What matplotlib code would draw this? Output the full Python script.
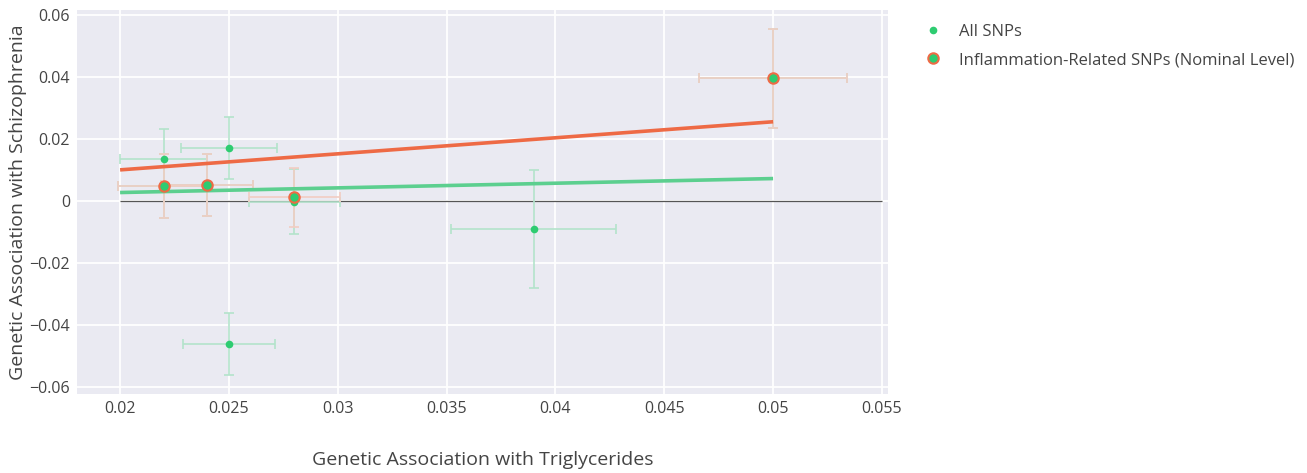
import matplotlib.pyplot as plt
import numpy as np

plt.rcParams['font.family'] = ['Open Sans', 'DejaVu Sans']

# All SNPs: beta for triglycerides (x) and schizophrenia (y), with standard errors
all_x = [0.022, 0.025, 0.028, 0.039, 0.025, 0.024, 0.022, 0.050]
all_y = [0.0134, 0.0170, -0.0002, -0.0090, -0.0461, 0.0050, 0.0047, 0.0395]
all_xerr = [0.0020, 0.0022, 0.0021, 0.0038, 0.0021, 0.0021, 0.0021, 0.0034]
all_yerr = [0.0097, 0.0099, 0.0106, 0.0190, 0.0101, 0.0100, 0.0103, 0.0160]

# Inflammation-related SNPs (nominal level)
infl_x = [0.022, 0.024, 0.028, 0.050]
infl_y = [0.0047, 0.0050, 0.0011, 0.0395]
infl_xerr = [0.0021, 0.0021, 0.0021, 0.0034]
infl_yerr = [0.0103, 0.0100, 0.0095, 0.0160]

# fitted lines (endpoints)
fit_x = [0.02, 0.05]
all_fit_y = [0.0027, 0.0072]
infl_fit_y = [0.0100, 0.0255]

green = '#2ecc71'
orange = '#ee6a45'
green_err = '#b3e3cb'
orange_err = '#f2cdc3'
bg = '#eaeaf2'
txt = '#444444'

fig = plt.figure(figsize=(13.07, 4.73), dpi=100)
W, H = 1307, 473
ax = fig.add_axes([77 / W, 1 - 394 / H, (888 - 77) / W, (394 - 10) / H])
ax.set_facecolor(bg)
for s in ax.spines.values():
    s.set_visible(False)

ax.set_xlim(0.01802, 0.05528)
ax.set_ylim(-0.0622, 0.0615)
ax.set_xticks(np.arange(0.02, 0.0551, 0.005))
ax.set_xticklabels(['0.02', '0.025', '0.03', '0.035', '0.04', '0.045', '0.05', '0.055'])
ax.set_yticks([-0.06, -0.04, -0.02, 0, 0.02, 0.04, 0.06])
ax.set_yticklabels(['\u22120.06', '\u22120.04', '\u22120.02', '0', '0.02', '0.04', '0.06'])
ax.tick_params(length=0, labelsize=11.5, colors=txt, pad=5)
ax.grid(True, color='white', linewidth=1.3)
ax.set_axisbelow(True)

ax.hlines(0, 0.02, 0.055, color='#555555', linewidth=0.9, zorder=2)

ax.errorbar(all_x, all_y, xerr=all_xerr, yerr=all_yerr, fmt='none',
            ecolor=green_err, elinewidth=1.2, capsize=3.5, capthick=1.2, zorder=3)
ax.errorbar(infl_x, infl_y, xerr=infl_xerr, yerr=infl_yerr, fmt='none',
            ecolor=orange_err, elinewidth=1.2, capsize=3.5, capthick=1.2, zorder=3)

ax.plot(fit_x, all_fit_y, color='#5ccf8f', linewidth=2.6, zorder=4, solid_capstyle='butt')
ax.plot(fit_x, infl_fit_y, color=orange, linewidth=2.6, zorder=4, solid_capstyle='butt')

h1, = ax.plot(all_x, all_y, 'o', color=green, markersize=5.5, markeredgewidth=0,
              linestyle='none', zorder=5, label='All SNPs')
h2, = ax.plot(infl_x, infl_y, 'o', color=green, markersize=7.5, markeredgecolor=orange,
              markeredgewidth=1.5, linestyle='none', zorder=6,
              label='Inflammation-Related SNPs (Nominal Level)')

fig.text((77 + 888) / 2 / W, 1 - 460 / H, 'Genetic Association with Triglycerides',
         ha='center', va='center', fontsize=14, color=txt)
fig.text(18 / W, 1 - 202 / H, 'Genetic Association with Schizophrenia',
         ha='center', va='center', rotation=90, fontsize=14, color=txt)

fig.legend(handles=[h1, h2], loc='upper left', bbox_to_anchor=(916 / W, 1 - 17 / H),
           frameon=False, fontsize=12, labelcolor=txt, handlelength=1.2,
           handletextpad=1.0, labelspacing=0.75, borderaxespad=0)

fig.savefig('out.png', dpi=100)
